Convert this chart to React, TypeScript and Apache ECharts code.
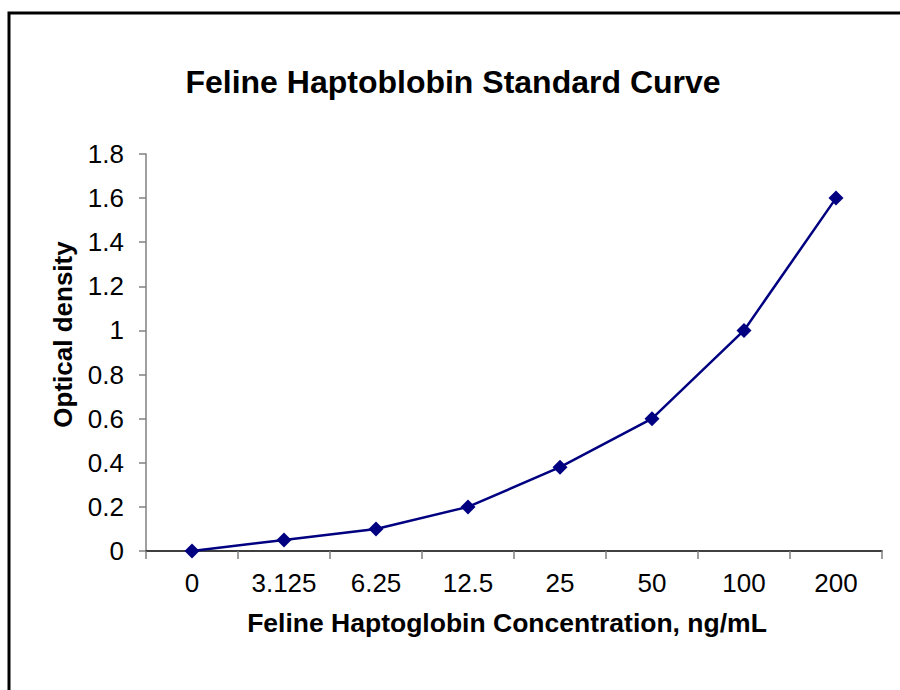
import React, { useEffect, useRef } from "react";
import * as echarts from "echarts";

const categories = ["0", "3.125", "6.25", "12.5", "25", "50", "100", "200"];
const opticalDensity = [0, 0.05, 0.1, 0.2, 0.38, 0.6, 1.0, 1.6];
const titleText = "Feline Haptoblobin Standard Curve";
const xName = "Feline Haptoglobin Concentration, ng/mL";
const yName = "Optical density";

export default function App() {
  const ref = useRef<HTMLDivElement>(null);
  useEffect(() => {
    document.body.style.margin = "0";
    const chart = echarts.init(ref.current!, null, { renderer: "svg" });
    const font = "Arial, 'Liberation Sans', sans-serif";
    chart.setOption({
      animation: false,
      backgroundColor: "#ffffff",
      title: {
        text: titleText,
        left: 448,
        top: 61,
        textAlign: "center",
        textStyle: { fontFamily: font, fontSize: 32, fontWeight: "bold", color: "#000" },
      },
      graphic: [
        {
          type: "rect",
          shape: { x: 9, y: 13, width: 1000, height: 1000 },
          style: { fill: "none", stroke: "#000", lineWidth: 3 },
          silent: true,
        },
      ],
      grid: { left: 146, right: 18, top: 154, bottom: 139 },
      xAxis: {
        type: "category",
        data: categories,
        boundaryGap: true,
        name: xName,
        nameLocation: "middle",
        nameGap: 58,
        nameTextStyle: {
          fontFamily: font,
          fontSize: 26.5,
          fontWeight: "bold",
          color: "#000",
          padding: [0, 14, 0, 0],
        },
        axisLine: { lineStyle: { color: "#000", width: 1.5 } },
        axisTick: { show: true, interval: 0, length: 8, lineStyle: { color: "#808080", width: 1.5 } },
        axisLabel: { fontFamily: font, fontSize: 26, color: "#000", margin: 19, interval: 0 },
        splitLine: { show: false },
      },
      yAxis: {
        type: "value",
        min: 0,
        max: 1.8,
        interval: 0.2,
        name: yName,
        nameLocation: "middle",
        nameGap: 70,
        nameTextStyle: {
          fontFamily: font,
          fontSize: 26,
          fontWeight: "bold",
          color: "#000",
          padding: [0, 0, 0, 36],
        },
        axisLine: { show: true, lineStyle: { color: "#808080", width: 1.5 } },
        axisTick: { show: true, length: 7, lineStyle: { color: "#808080", width: 1.5 } },
        axisLabel: { fontFamily: font, fontSize: 26, color: "#000", margin: 22 },
        splitLine: { show: false },
      },
      series: [
        {
          type: "line",
          data: opticalDensity,
          symbol: "diamond",
          symbolSize: 15,
          lineStyle: { color: "#000080", width: 2.5 },
          itemStyle: { color: "#000080" },
        },
      ],
    });
    return () => chart.dispose();
  }, []);
  return <div ref={ref} style={{ width: 900, height: 690 }} />;
}
